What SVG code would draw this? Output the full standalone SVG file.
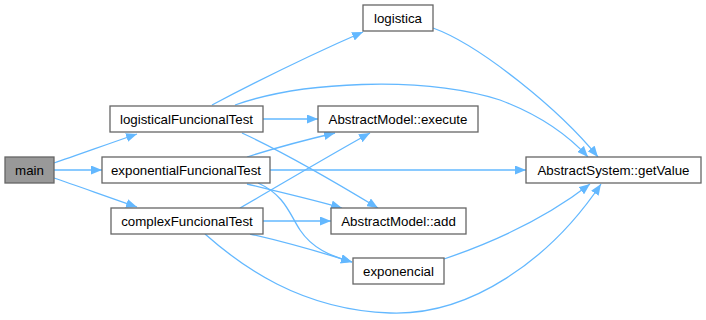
<svg xmlns="http://www.w3.org/2000/svg" width="706" height="320" viewBox="0 0 706 320">
  <style>
    .node rect { fill: #ffffff; stroke: #666666; stroke-width: 1.3; }
    .node.root rect { fill: #999999; }
    .node text { font-family: "Liberation Sans", Arial, sans-serif; font-size: 13.3px; fill: #000000; text-anchor: middle; }
    .edge { fill: none; stroke: #63b8ff; stroke-width: 1.3; marker-end: url(#arrow); }
  </style>
  <defs>
    <marker id="arrow" markerUnits="userSpaceOnUse" markerWidth="12" markerHeight="9" refX="11" refY="4.5" orient="auto">
      <path d="M0,0 L11,4.5 L0,9 z" fill="#63b8ff"/>
    </marker>
  </defs>

  <g id="connectors">
    <path class="edge" d="M54,163 C75,156 105,145 137,134"/>
    <path class="edge" d="M54,170 L102,170"/>
    <path class="edge" d="M54,178 C75,185 105,196 137,207"/>
    <path class="edge" d="M212,105 C250,85 310,55 363,32"/>
    <path class="edge" d="M235,105 C300,82 420,75 500,100 C540,115 568,135 588,157"/>
    <path class="edge" d="M263,119 L318,119"/>
    <path class="edge" d="M242,133 C290,155 340,185 378,208"/>
    <path class="edge" d="M247,157 C275,148 305,140 335,133"/>
    <path class="edge" d="M270,170 L526,170"/>
    <path class="edge" d="M247,184 C280,192 315,200 342,208"/>
    <path class="edge" d="M258,183 C285,195 290,215 300,230 C312,248 330,256 352,262"/>
    <path class="edge" d="M240,208 C280,185 330,155 370,133"/>
    <path class="edge" d="M263,221 L331,221"/>
    <path class="edge" d="M250,234 C290,243 320,252 352,262"/>
    <path class="edge" d="M205,234 C240,265 300,310 390,313 C470,316 550,260 601,184"/>
    <path class="edge" d="M444,259 C500,240 550,215 590,184"/>
    <path class="edge" d="M433,28 C480,45 560,110 598,157"/>
  </g>

  <g id="main" class="node root">
    <rect x="5" y="157" width="49" height="26"/>
    <text x="29.5" y="174.5">main</text>
  </g>
  <g id="logisticalFuncionalTest" class="node">
    <rect x="110" y="106" width="153" height="26"/>
    <text x="186.5" y="123.5">logisticalFuncionalTest</text>
  </g>
  <g id="exponentialFuncionalTest" class="node">
    <rect x="102" y="157" width="168" height="26"/>
    <text x="186" y="174.5">exponentialFuncionalTest</text>
  </g>
  <g id="complexFuncionalTest" class="node">
    <rect x="111" y="208" width="152" height="26"/>
    <text x="187" y="225.5">complexFuncionalTest</text>
  </g>
  <g id="logistica" class="node">
    <rect x="363" y="5" width="70" height="26"/>
    <text x="398" y="22.5">logistica</text>
  </g>
  <g id="AbstractModel_execute" class="node">
    <rect x="318" y="106" width="160" height="26"/>
    <text x="398" y="123.5">AbstractModel::execute</text>
  </g>
  <g id="AbstractModel_add" class="node">
    <rect x="331" y="208" width="135" height="26"/>
    <text x="398.5" y="225.5">AbstractModel::add</text>
  </g>
  <g id="exponencial" class="node">
    <rect x="353" y="258" width="91" height="26"/>
    <text x="398.5" y="275.5">exponencial</text>
  </g>
  <g id="AbstractSystem_getValue" class="node">
    <rect x="526" y="157" width="175" height="26"/>
    <text x="613.5" y="174.5">AbstractSystem::getValue</text>
  </g>
</svg>
